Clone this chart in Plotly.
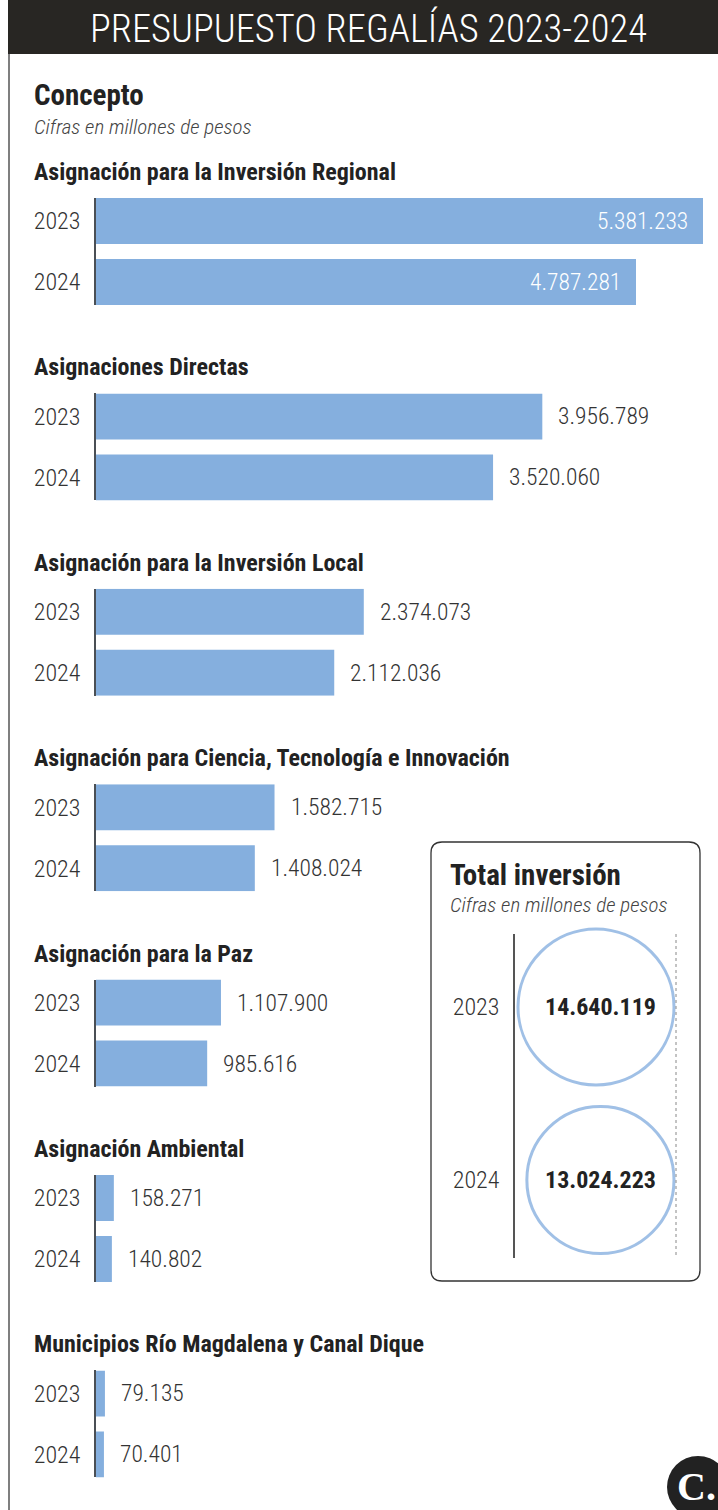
import math
import plotly.graph_objects as go

W, H = 718, 1510

# ---------------- data ----------------
categories = [
    "Asignación para la Inversión Regional",
    "Asignaciones Directas",
    "Asignación para la Inversión Local",
    "Asignación para Ciencia, Tecnología e Innovación",
    "Asignación para la Paz",
    "Asignación Ambiental",
    "Municipios Río Magdalena y Canal Dique",
]
years = ["2023", "2024"]
values_2023 = [5381233, 3956789, 2374073, 1582715, 1107900, 158271, 79135]
values_2024 = [4787281, 3520060, 2112036, 1408024, 985616, 140802, 70401]
total_years = ["2023", "2024"]
total_values = [14640119, 13024223]

# ---------------- style ----------------
FONT = "Roboto Condensed, Liberation Sans Narrow, Arial Narrow, Roboto, sans-serif"
BAR = "#85AFDE"
DARK = "#222222"
TXT = "#333333"


def fmt(v):
    return f"{v:,}".replace(",", ".")


def px(x):
    return x / W


def py(y):
    return 1 - y / H


fig = go.Figure()
layout = dict(
    width=W, height=H, margin=dict(l=0, r=0, t=0, b=0),
    paper_bgcolor="white", plot_bgcolor="rgba(0,0,0,0)",
    showlegend=False, font=dict(family=FONT, color=TXT),
)
annotations = []
shapes = []

# geometry
X0 = 96          # bar baseline (px)
XEND_MAX = 703   # end of the longest bar (px)
xmax = max(values_2023) * (W - X0) / (XEND_MAX - X0)
BAR_W = 46 / 61
pad = BAR_W / 2  # category range so the domain equals the bar extent
LX = 32          # left text edge

for i, cat in enumerate(categories):
    title_y = 172 + i * 195.4
    top = title_y + 26
    bottom = top + 107
    n = i + 1
    xa = "x" if n == 1 else f"x{n}"
    ya = "y" if n == 1 else f"y{n}"
    fig.add_trace(go.Bar(
        x=[values_2023[i], values_2024[i]], y=years, orientation="h",
        width=BAR_W, marker=dict(color=BAR, line=dict(width=0)),
        xaxis=xa, yaxis=ya, hoverinfo="skip", cliponaxis=False,
    ))
    layout["xaxis" if n == 1 else f"xaxis{n}"] = dict(
        domain=[px(X0), 1], range=[0, xmax], visible=False, fixedrange=True)
    layout["yaxis" if n == 1 else f"yaxis{n}"] = dict(
        domain=[py(bottom), py(top)], type="category",
        categoryorder="array", categoryarray=years,
        range=[1 + pad, -pad],
        anchor=xa, showline=True, linecolor="#4a4f55", linewidth=1.5,
        ticks="", showgrid=False, zeroline=False, ticklabelstandoff=9,
        tickfont=dict(size=24, color=TXT, family=FONT, weight=300), fixedrange=True,
    )

    annotations.append(dict(
        text=f"<b>{cat}</b>", x=px(LX), y=py(title_y), xref="paper", yref="paper",
        xanchor="left", yanchor="middle", showarrow=False,
        font=dict(size=24, color=DARK, family=FONT)))

    for k, v in enumerate([values_2023[i], values_2024[i]]):
        inside = i == 0
        annotations.append(dict(
            text=fmt(v), x=v, y=k, xref=xa, yref=ya,
            xanchor="right" if inside else "left",
            xshift=-13 if inside else 14, yanchor="middle", showarrow=False,
            font=dict(size=23.5, color="white" if inside else TXT, family=FONT, weight=300)))

# ---------------- total box ----------------
BX0, BX1, BY0, BY1, R = 431, 700, 842, 1281, 11
path = (f"M {px(BX0 + R)},{py(BY0)} L {px(BX1 - R)},{py(BY0)} "
        f"Q {px(BX1)},{py(BY0)} {px(BX1)},{py(BY0 + R)} L {px(BX1)},{py(BY1 - R)} "
        f"Q {px(BX1)},{py(BY1)} {px(BX1 - R)},{py(BY1)} L {px(BX0 + R)},{py(BY1)} "
        f"Q {px(BX0)},{py(BY1)} {px(BX0)},{py(BY1 - R)} L {px(BX0)},{py(BY0 + R)} "
        f"Q {px(BX0)},{py(BY0)} {px(BX0 + R)},{py(BY0)} Z")
shapes.append(dict(type="path", path=path, xref="paper", yref="paper",
                   line=dict(color="#333333", width=1.3), fillcolor="rgba(0,0,0,0)"))

annotations.append(dict(text="<b>Total inversión</b>", x=px(448), y=py(875),
                        xref="paper", yref="paper", xanchor="left", yanchor="middle",
                        showarrow=False, font=dict(size=29, color=DARK, family=FONT)))
annotations.append(dict(text="<i>Cifras en millones de pesos</i>", x=px(448), y=py(905),
                        xref="paper", yref="paper", xanchor="left", yanchor="middle",
                        showarrow=False, font=dict(size=21, color="#444444", family=FONT, weight=300)))

TX0 = 515
CIRCLE_RIGHT = 674
R_MAX = 78
sizeref = max(total_values) / 2 / R_MAX ** 2
radii = [math.sqrt(v / 2 / sizeref) for v in total_values]
cx = [CIRCLE_RIGHT - r for r in radii]
fig.add_trace(go.Scatter(
    x=cx, y=total_years, mode="markers",
    marker=dict(size=total_values, sizemode="area", sizeref=sizeref,
                color="white", line=dict(color="#78A6DC", width=3)),
    xaxis="x8", yaxis="y8", cliponaxis=False, hoverinfo="skip",
))
layout["xaxis8"] = dict(domain=[px(TX0), 1], range=[TX0, W], visible=False, fixedrange=True)
ctop, cbot = 934, 1258
layout["yaxis8"] = dict(
    domain=[py(cbot), py(ctop)], type="category", categoryorder="array",
    categoryarray=total_years, range=[1.451, -0.422], anchor="x8",
    showline=True, linecolor="#555555", linewidth=1.5, ticks="", showgrid=False,
    zeroline=False, ticklabelstandoff=9, fixedrange=True,
    tickfont=dict(size=24, color=TXT, family=FONT, weight=300))
for k, v in enumerate(total_values):
    annotations.append(dict(text=f"<b>{fmt(v)}</b>", x=600, y=k, xref="x8", yref="y8",
                            xanchor="center", yanchor="middle", showarrow=False,
                            font=dict(size=24, color=DARK, family=FONT)))
shapes.append(dict(type="line", xref="paper", yref="paper", x0=px(676), x1=px(676),
                   y0=py(ctop), y1=py(cbot), line=dict(color="#888888", width=1, dash="dot")))

# ---------------- header & frame ----------------
shapes.append(dict(type="line", xref="paper", yref="paper", x0=px(9), x1=px(9),
                   y0=py(0), y1=py(H), line=dict(color="#555555", width=1.5)))
shapes.append(dict(type="rect", xref="paper", yref="paper", x0=px(8), x1=1,
                   y0=py(54), y1=1, line=dict(width=0), fillcolor="#282623"))
annotations.append(dict(text="PRESUPUESTO REGALÍAS 2023-2024", x=px(368), y=py(29),
                        xref="paper", yref="paper", xanchor="center", yanchor="middle",
                        showarrow=False, font=dict(size=38.5, color="white", family=FONT, weight=300)))
annotations.append(dict(text="<b>Concepto</b>", x=px(LX), y=py(95), xref="paper", yref="paper",
                        xanchor="left", yanchor="middle", showarrow=False,
                        font=dict(size=29, color=DARK, family=FONT)))
annotations.append(dict(text="<i>Cifras en millones de pesos</i>", x=px(LX), y=py(127),
                        xref="paper", yref="paper", xanchor="left", yanchor="middle",
                        showarrow=False, font=dict(size=21, color="#444444", family=FONT, weight=300)))

# logo
shapes.append(dict(type="circle", xref="paper", yref="paper", x0=px(667), x1=px(729),
                   y0=py(1518), y1=py(1456), line=dict(width=0), fillcolor="#222222"))
annotations.append(dict(text="<b>C.</b>", x=px(696), y=py(1486), xref="paper", yref="paper",
                        xanchor="center", yanchor="middle", showarrow=False,
                        font=dict(size=40, color="white", family="Liberation Serif, DejaVu Serif, serif")))

layout["annotations"] = annotations
layout["shapes"] = shapes
fig.update_layout(**layout)
fig.write_html("out.html", config={"displayModeBar": False},
               post_script="document.body.style.margin='0';document.body.style.padding='0';")
